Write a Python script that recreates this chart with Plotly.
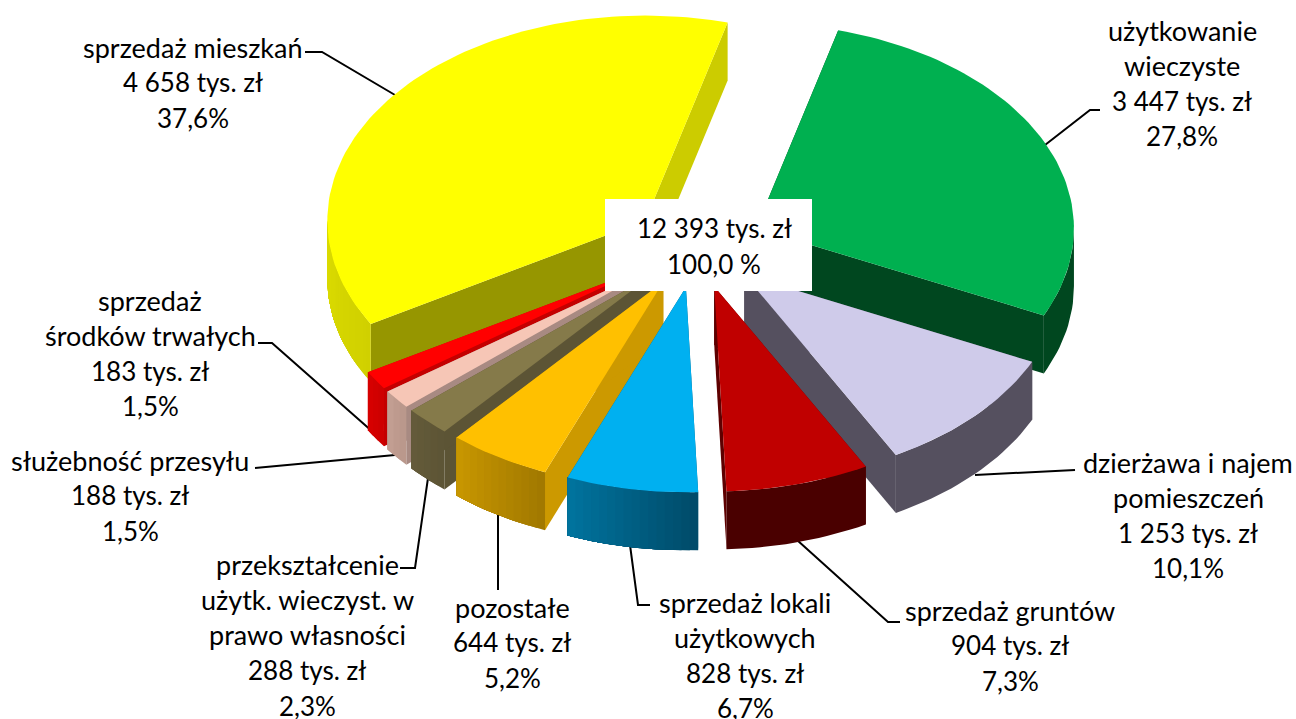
import math
import plotly.graph_objects as go

# ---- data (clockwise from the green slice) ----
categories = ["użytkowanie wieczyste", "dzierżawa i najem pomieszczeń", "sprzedaż gruntów",
              "sprzedaż lokali użytkowych", "pozostałe",
              "przekształcenie użytk. wieczyst. w prawo własności", "służebność przesyłu",
              "sprzedaż środków trwałych", "sprzedaż mieszkań"]
values = [3447, 1253, 904, 828, 644, 288, 188, 183, 4658]
value_labels = ["3 447 tys. zł", "1 253 tys. zł", "904 tys. zł", "828 tys. zł", "644 tys. zł",
                "288 tys. zł", "188 tys. zł", "183 tys. zł", "4 658 tys. zł"]
percent_labels = ["27,8%", "10,1%", "7,3%", "6,7%", "5,2%", "2,3%", "1,5%", "1,5%", "37,6%"]
name_lines = [["użytkowanie", "wieczyste"], ["dzierżawa i najem", "pomieszczeń"], ["sprzedaż gruntów"],
              ["sprzedaż lokali", "użytkowych"], ["pozostałe"],
              ["przekształcenie", "użytk. wieczyst. w", "prawo własności"], ["służebność przesyłu"],
              ["sprzedaż", "środków trwałych"], ["sprzedaż mieszkań"]]
total_lines = ["12 393 tys. zł", "100,0 %"]

# ---- styles ----
top_colors = ["#00B050", "#CFCBEA", "#C00000", "#00B0F0", "#FFC000", "#857A4A", "#F6C6B6", "#FF0000", "#FFFF00"]
cut_colors_end = ["#00471F", "#55505F", "#5E0000", "#005A7C", "#CC9900", "#5C5435", "#A88A82", "#C40000", "#CCCC00"]
cut_colors_start = ["#00471F", "#55505F", "#5E0000", "#005A7C", "#CC9900", "#5C5435", "#A88A82", "#C40000", "#969600"]
wall_left = ["#00471F", "#55505F", "#4A0000", "#00749F", "#C99700", "#655B3A", "#C49F93", "#D80000", "#DCDC00"]
wall_right = ["#00471F", "#55505F", "#4A0000", "#004A68", "#A07800", "#5C5435", "#B8968A", "#CC0000", "#D0D000"]
draw_order = [8, 7, 6, 5, 4, 3, 0, 1, 2]

# ---- pie geometry ----
CX, CY, RX, RY, EXPLODE, DEPTH, ROTATION = 697, 246, 318, 205, 65, 58, 15.0
label_x = [1182, 1188, 1010, 745, 512, 307, 130, 150, 193]
label_y = [30, 462, 610, 602, 607, 564, 460, 300, 47]
line_step = 35.4
leaders = [
    [(1045, 145), (1090, 110), (1100, 110)],
    [(975, 475), (1075, 470)],
    [(797, 540), (888, 622), (900, 622)],
    [(630, 545), (638, 605), (650, 605)],
    [(498, 515), (498, 590)],
    [(428, 478), (415, 568), (400, 568)],
    [(395, 455), (255, 468)],
    [(382, 440), (272, 343), (258, 343)],
    [(395, 95), (322, 52), (305, 52)],
]
FONT = "Lato"
NAME_SIZE = 27
VALUE_SIZE = 26


def mix(c1, c2, t):
    a = [int(c1[i:i + 2], 16) for i in (1, 3, 5)]
    b = [int(c2[i:i + 2], 16) for i in (1, 3, 5)]
    return "rgb(%d,%d,%d)" % tuple(round(p + (q - p) * t) for p, q in zip(a, b))


def poly(xs, ys, color):
    return go.Scatter(x=list(xs) + [xs[0]], y=list(ys) + [ys[0]], mode="lines", fill="toself",
                      fillcolor=color, line=dict(color=color, width=0), hoverinfo="skip", showlegend=False)


fig = go.Figure()

# leader lines sit under the pie
for pts in leaders:
    fig.add_trace(go.Scatter(x=[p[0] for p in pts], y=[p[1] for p in pts], mode="lines",
                             line=dict(color="black", width=2), hoverinfo="skip", showlegend=False))

# slices from the data
total = sum(values)
angles = [ROTATION]
for v in values:
    angles.append(angles[-1] + v / total * 360)

for i in draw_order:
    a0, a1 = angles[i], angles[i + 1]
    mid = math.radians((a0 + a1) / 2)
    ax = CX + EXPLODE * math.sin(mid)
    ay = CY - EXPLODE * math.cos(mid) * RY / RX

    def rim(deg):
        r = math.radians(deg)
        return ax + RX * math.sin(r), ay - RY * math.cos(r)

    # cut faces
    for deg, col in ((a0, cut_colors_start[i]), (a1, cut_colors_end[i])):
        x, y = rim(deg)
        fig.add_trace(poly([ax, x, x, ax], [ay, y, y + DEPTH, ay + DEPTH], col))

    # outer wall (only the part facing the viewer); each band runs to the end of the wall, so no seams
    w0, w1 = max(a0, 90), min(a1, 270)
    if w1 > w0:
        bands = 1 if wall_left[i] == wall_right[i] else max(2, int((w1 - w0) / 1.5))
        for k in range(bands):
            d0 = w0 + (w1 - w0) * k / bands
            steps = max(3, int((w1 - d0) / 1.5))
            pts = [rim(d0 + (w1 - d0) * s / steps) for s in range(steps + 1)]
            xs = [p[0] for p in pts] + [p[0] for p in reversed(pts)]
            ys = [p[1] for p in pts] + [p[1] + DEPTH for p in reversed(pts)]
            t = 1 - (k + 0.5) / bands
            fig.add_trace(poly(xs, ys, mix(wall_left[i], wall_right[i], t)))

    # top face
    n = max(4, int((a1 - a0) / 1.5))
    pts = [rim(a0 + (a1 - a0) * k / n) for k in range(n + 1)]
    fig.add_trace(poly([ax] + [p[0] for p in pts], [ay] + [p[1] for p in pts], top_colors[i]))

# labels, one annotation per line to hold the original line spacing
annotations = []
for i in range(len(values)):
    names = name_lines[i]
    lines = names + [value_labels[i], percent_labels[i]]
    for k, t in enumerate(lines):
        size = NAME_SIZE if k < len(names) else VALUE_SIZE
        annotations.append(dict(x=label_x[i], y=label_y[i] + k * line_step, text=t, showarrow=False,
                                xanchor="center", yanchor="middle",
                                font=dict(family=FONT, size=size, color="black")))
for k, t in enumerate(total_lines):
    annotations.append(dict(x=714, y=228 + k * 36, text=t, showarrow=False, xanchor="center", yanchor="middle",
                            font=dict(family=FONT, size=VALUE_SIZE, color="black")))

fig.update_layout(
    width=1296, height=719, margin=dict(l=0, r=0, t=0, b=0),
    paper_bgcolor="white", plot_bgcolor="white", showlegend=False,
    xaxis=dict(range=[0, 1296], visible=False, fixedrange=True),
    yaxis=dict(range=[719, 0], visible=False, fixedrange=True),
    shapes=[dict(type="rect", x0=605, x1=812, y0=199, y1=291, fillcolor="white",
                 line=dict(width=0), layer="above")],
    annotations=annotations,
)
fig.write_html("out.html", config={"displayModeBar": False},
               post_script="document.body.style.margin='0';document.documentElement.style.overflow='hidden';")
